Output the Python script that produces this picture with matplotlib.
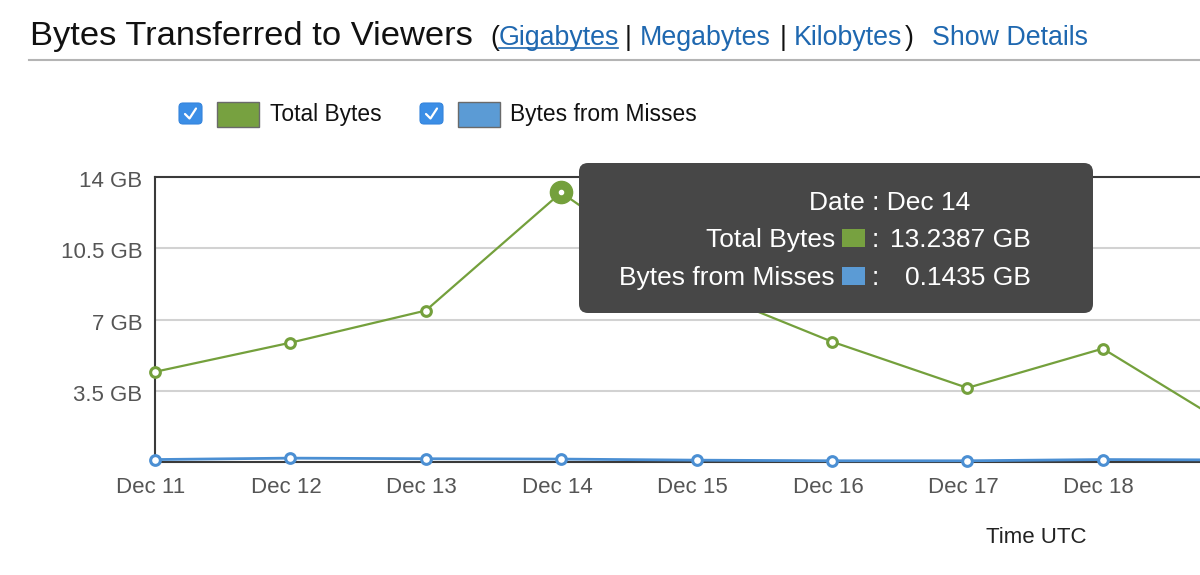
import matplotlib
matplotlib.use('Agg')
import matplotlib.pyplot as plt
import matplotlib.transforms as mtransforms
from matplotlib.patches import FancyBboxPatch, Rectangle
from matplotlib.lines import Line2D

plt.rcParams['font.family'] = ['Liberation Sans', 'DejaVu Sans']

# ---- data ----
dates = ["Dec 11", "Dec 12", "Dec 13", "Dec 14", "Dec 15", "Dec 16", "Dec 17", "Dec 18", "Dec 19"]
total_gb = [4.43, 5.86, 7.44, 13.2387, 8.6, 5.91, 3.64, 5.57, 1.5]
misses_gb = [0.12, 0.19, 0.16, 0.1435, 0.09, 0.06, 0.06, 0.12, 0.10]
ytick_vals = [3.5, 7, 10.5, 14]
ytick_labels = ["3.5 GB", "7 GB", "10.5 GB", "14 GB"]
highlight = "Dec 14"

GREEN = '#74a03c'
BLUE = '#4b8fd3'
LINK = '#1f68b0'

W, H = 1200, 575
fig = plt.figure(figsize=(12, 5.75), dpi=100)
T = fig.dpi_scale_trans


def P(x, y):
    return (x / 100.0, (H - y) / 100.0)


def ftext(x, y, s, **kw):
    kw.setdefault('va', 'baseline')
    return fig.text(*P(x, y), s, transform=T, **kw)


# ---- header ----
ftext(30, 45, "Bytes Transferred to Viewers", fontsize=24.8, color='#111111')
ftext(490, 45, "(", fontsize=19.3, color='#111111')
ftext(499, 45, "Gigabytes", fontsize=19.3, color=LINK)
fig.add_artist(Line2D([499 / 100, 618 / 100], [(H - 47.5) / 100] * 2, transform=T, color=LINK, lw=1.2))
ftext(625, 45, "|", fontsize=19.3, color='#111111')
ftext(640, 45, "Megabytes", fontsize=19.3, color=LINK)
ftext(780, 45, "|", fontsize=19.3, color='#111111')
ftext(794, 45, "Kilobytes", fontsize=19.3, color=LINK)
ftext(905, 45, ")", fontsize=19.3, color='#111111')
ftext(932, 45, "Show Details", fontsize=19.3, color=LINK)
fig.add_artist(Line2D([29 / 100, 1200 / 100], [(H - 60) / 100] * 2, transform=T, color='#b4b4b4', lw=1.5))

# ---- legend ----
def checkbox(x0, y0, x1, y1):
    fig.add_artist(FancyBboxPatch(P(x0, y1), (x1 - x0) / 100, (y1 - y0) / 100,
                                  boxstyle="round,pad=0,rounding_size=0.04",
                                  transform=T, fc='#3b8ee6', ec='#3584dc', lw=0.8))
    xs = [x0 + 6, x0 + 10.5, x0 + 17]
    ys = [y0 + 11, y0 + 15.5, y0 + 5.5]
    fig.add_artist(Line2D([v / 100 for v in xs], [(H - v) / 100 for v in ys],
                          transform=T, color='white', lw=1.6, solid_capstyle='round'))


checkbox(179, 103, 202, 124)
fig.add_artist(Rectangle(P(217, 127), 42 / 100, 25 / 100, transform=T, fc='#77a140', ec='#6a6a6a', lw=1))
ftext(270, 121, "Total Bytes", fontsize=16.4, color='#111111')
checkbox(420, 103, 443, 124)
fig.add_artist(Rectangle(P(458, 127), 42 / 100, 25 / 100, transform=T, fc='#5b9bd5', ec='#6a6a6a', lw=1))
ftext(510, 121, "Bytes from Misses", fontsize=16.4, color='#111111')

# ---- axes ----
ax = fig.add_axes([155 / W, 1 - 462 / H, (1300 - 155) / W, (462 - 177) / H])
x = list(range(len(dates)))
ax.set_xlim(0, (1300 - 155) / 135.4)
ax.set_ylim(0, 14)
ax.set_yticks(ytick_vals)
ax.set_yticklabels(ytick_labels)
ax.set_xticks(x)
ax.set_xticklabels(dates)
ax.tick_params(axis='both', length=0, labelsize=16, labelcolor='#555555')
ax.tick_params(axis='y', pad=9)
ax.tick_params(axis='x', pad=11)
shift = mtransforms.ScaledTranslation(-4 / 100, 0, fig.dpi_scale_trans)
for lbl in ax.get_xticklabels():
    lbl.set_transform(lbl.get_transform() + shift)
shift_y = mtransforms.ScaledTranslation(0, -2 / 100, fig.dpi_scale_trans)
for lbl in ax.get_yticklabels():
    lbl.set_transform(lbl.get_transform() + shift_y)
for s in ['left', 'top', 'bottom']:
    ax.spines[s].set_color('#3a3a3a')
    ax.spines[s].set_linewidth(1.5)
ax.spines['right'].set_visible(False)
for v in ytick_vals[:-1]:
    ax.axhline(v, color='#d2d2d2', lw=1.5, zorder=1)

ax.plot(x, misses_gb, color=BLUE, lw=2, marker='o', ms=7, mfc='white', mec=BLUE, mew=2.2,
        clip_on=False, zorder=3)
ax.plot(x, total_gb, color=GREEN, lw=1.6, marker='o', ms=7, mfc='white', mec=GREEN, mew=2.2,
        clip_on=False, zorder=3)
hi = dates.index(highlight)
ax.plot([hi], [total_gb[hi]], 'o', ms=16, color=GREEN, clip_on=False, zorder=4)
ax.plot([hi], [total_gb[hi]], 'o', ms=3, color='white', clip_on=False, zorder=5)

ftext(1036, 543, "Time UTC", fontsize=16, color='#222222', ha='center')

# ---- tooltip ----
tip = FancyBboxPatch(P(579, 313), (1093 - 579) / 100, (313 - 163) / 100,
                     boxstyle="round,pad=0,rounding_size=0.09", transform=T,
                     fc='#474747', ec='none', zorder=10)
fig.add_artist(tip)
tk = dict(fontsize=19, color='white', zorder=11)
ftext(809, 210, f"Date : {highlight}", **tk)
ftext(835, 247, "Total Bytes", ha='right', **tk)
fig.add_artist(Rectangle(P(842, 247), 23 / 100, 18 / 100, transform=T, fc='#77a140', ec='none', zorder=11))
ftext(872, 247, ":", **tk)
ftext(1031, 247, f"{total_gb[hi]:.4f} GB", ha='right', **tk)
ftext(835, 285, "Bytes from Misses", ha='right', **tk)
fig.add_artist(Rectangle(P(842, 285), 23 / 100, 18 / 100, transform=T, fc='#5b9bd5', ec='none', zorder=11))
ftext(872, 285, ":", **tk)
ftext(1031, 285, f"{misses_gb[hi]:.4f} GB", ha='right', **tk)

fig.savefig('out.png', dpi=100)
